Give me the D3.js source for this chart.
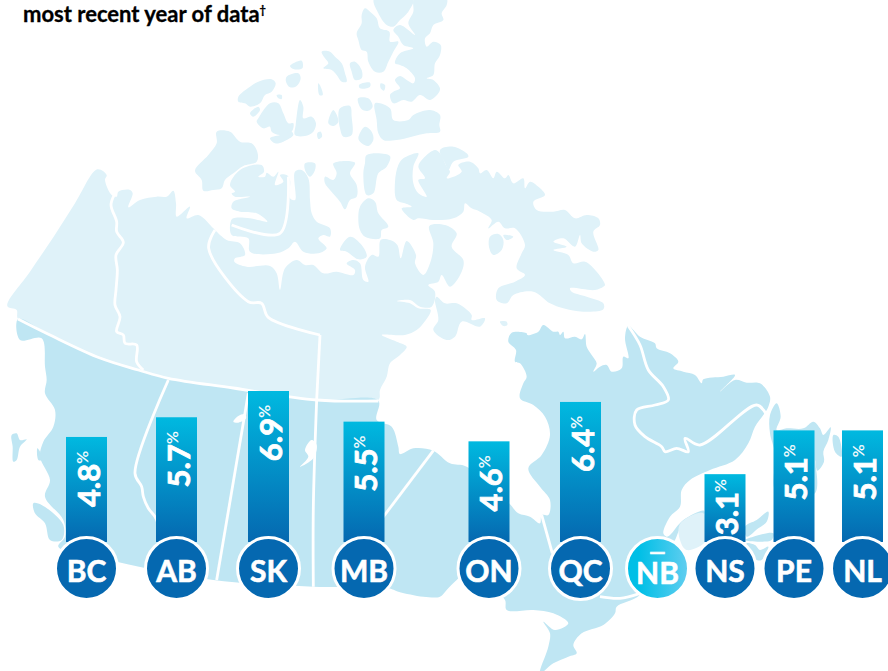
<!DOCTYPE html>
<html>
<head>
<meta charset="utf-8">
<script src="https://cdn.jsdelivr.net/npm/d3@7"></script>
<style>
body { margin: 0; background: #fff; }
svg { display: block; font-family: Lato, "Open Sans", sans-serif; font-weight: 700; }
</style>
</head>
<body>
<div class="container"></div>
<script>
// Chart data
const provinces = ["BC", "AB", "SK", "MB", "ON", "QC", "NB", "NS", "PE", "NL"];
const rates = [4.8, 5.7, 6.9, 5.5, 4.6, 6.4, null, 3.1, 5.1, 5.1];
const title = "most recent year of data";

const w = 888;
const h = 671;
const barW = 41;
const radius = 29.5;
const circleY = 568.5;

const dataset = provinces.map((p, i) => ({ province: p, rate: rates[i] }));

// Provinces are not evenly spaced, they sit roughly over their place on the map
const xScale = d3.scaleOrdinal()
       .domain(provinces)
       .range([86.5, 176.5, 268.5, 364, 489, 580.5, 657.5, 725, 794, 862.5]);

const yScale = d3.scaleLinear()
       .domain([0, 6.9])
       .range([542, 391]);

const z = (ox, oy, s) => s.trim().split(/\s+/).map(p => {
       const [a, b] = p.split(",").map(Number);
       return [ox + a / 3, oy + b / 3];
});

const north = [
       ...z(0, 0, "22,918 90,815 160,712 225,610 292,508 320,525 315,540 335,585 350,590 355,575 390,570 398,580 385,622 420,600 470,590 500,590 520,572 528,610 530,650 570,620 560,655 595,645 640,685"),
       ...z(190, 130, "75,300 110,330 150,340 165,375 135,385 133,395 170,410 240,408 260,430 270,480 285,415 320,390 345,405 370,405 400,430 440,425 490,435 495,420 470,400 490,390 510,400 520,450 535,455 525,410 545,375 565,380 572,330 600,330 622,345 632,385 650,333 678,375 675,400 700,435"),
       ...z(390, 140, "120,370 130,310 118,258 165,255 200,280 185,320 220,360 215,395 180,440 155,405 145,425 115,435 135,455 125,500 90,500 60,480 20,483 60,490 85,505 122,510"),
       ...z(0, 0, "1270,970 1250,990 1215,1005 1145,1005 1190,1025 1220,1040 1200,1065 1170,1090 1160,1130 1140,1170 1135,1200 951,1200 700,1164 505,1135 415,1110 300,1074 150,1005 54,957 50,930")
];

const arctic = [
       // Ellesmere, Axel Heiberg and Devon
       z(230, 0, "405,25 420,35 440,55 450,85 478,95 480,125 505,125 490,155 475,185 460,215 435,215 415,185 410,155 395,150 385,120 380,100 395,70 395,45"),
       z(230, 0, "553,-3 650,-3 650,15 635,40 640,60 610,75 600,100 585,115 590,140 610,125 632,135 630,165 615,190 610,225 590,235 610,240 630,265 625,280 600,300 570,285 545,305 520,300 490,310 480,285 490,275 510,265 495,240 510,228 530,240 550,250 555,235 530,205 510,195 495,190 510,160 550,145 520,135 505,110 490,90 510,75 555,105 535,70 550,35"),
       z(230, 0, "432,-3 550,-3 535,35 510,60 490,80 470,75 445,40"),
       z(230, 0, "435,310 480,325 490,360 535,360 550,345 600,330 630,345 628,375 630,395 590,400 545,410 500,420 460,420 445,400 440,360"),
       // Queen Elizabeth group
       z(230, 0, "275,155 300,155 315,170 335,190 345,220 350,245 335,245 320,225 305,210 280,205 295,190 285,175"),
       z(230, 0, "360,190 375,185 395,210 395,235 375,240 365,215"),
       z(230, 0, "387,255 420,248 420,260 390,265"),
       z(230, 0, "452,250 465,255 462,272 452,265"),
       z(230, 0, "384,295 415,295 428,320 415,332 395,328"),
       z(230, 0, "385,415 405,380 425,395 430,420 415,438 395,430"),
       z(230, 0, "330,325 360,318 365,350 365,405 340,410 330,385 325,345"),
       z(230, 0, "310,330 325,365 310,378 295,370"),
       z(230, 0, "197,375 210,300 220,320 220,355 245,350 258,370 250,395 225,408 195,405"),
       z(230, 0, "265,250 272,260 278,285 268,285"),
       z(230, 0, "262,400 272,395 276,410 265,417"),
       z(230, 0, "170,230 205,220 212,235 200,258 180,262 168,245"),
       z(230, 0, "180,198 215,182 217,205 190,207"),
       z(230, 0, "25,290 60,260 85,245 125,238 137,250 125,275 105,285 90,310 60,320 45,310 25,305"),
       z(230, 0, "60,340 85,320 90,330 70,350"),
       z(230, 0, "140,285 155,285 155,297 145,295"),
       z(230, 0, "85,355 120,310 145,310 160,340 175,370 190,370 185,395 150,405 125,395 120,380 100,385 80,365"),
       z(230, 0, "120,415 150,405 185,395 190,405 160,425 135,430"),
       // Banks and Victoria
       z(190, 130, "80,5 120,5 150,35 185,40 203,70 200,95 160,108 130,130 105,150 95,175 70,180 40,182 35,150 15,122 55,75 80,40"),
       z(190, 130, "120,165 150,120 215,105 222,125 205,140 225,140 230,128 250,140 265,125 255,165 280,155 270,135 290,135 300,150 300,205 315,210 315,125 335,120 355,145 360,210 365,250 380,275 420,295 420,320 400,315 385,325 410,355 385,370 340,365 315,335 295,355 260,370 180,365 175,325 125,315 122,275 130,265 180,265 232,275 200,250 150,245 125,235 130,215 180,200 135,200 125,190 135,185"),
       // Central islands
       z(190, 130, "345,100 375,100 375,120 360,140 345,120"),
       z(190, 130, "430,100 495,98 480,130 500,165 500,200 480,210 465,238 450,215 420,180 405,160 405,140 430,150 440,130"),
       z(190, 130, "525,100 530,75 600,78 590,110 565,130 550,190 530,195 520,130"),
       z(190, 130, "510,230 535,205 555,215 565,250 595,290 575,300 570,325 525,320 510,300 505,270"),
       z(190, 130, "450,360 480,320 515,345 530,380 505,388 470,365"),
       // Baffin, Bylot, Southampton and the small ones in the bays
       z(390, 140, "40,55 85,40 70,80 70,130 85,160 110,170 85,120 105,115 85,80 100,55 135,30 150,40 170,80 180,95 170,115 215,95 205,75 240,65 265,85 270,100 290,90 310,115 320,95 345,115 355,105 370,130 400,115 405,145 420,125 445,140 465,165 430,185 440,210 490,215 525,210 555,235 590,225 625,235 630,255 610,275 625,330 610,335 575,310 570,285 555,320 520,295 490,305 530,320 490,330 535,345 550,370 585,365 620,395 645,435 640,440 615,450 540,445 545,455 590,470 640,490 640,508 580,515 520,505 480,490 430,455 370,465 350,490 320,480 325,445 375,425 405,405 380,385 395,340 405,315 375,265 345,265 325,245 295,265 305,240 270,215 245,205 225,190 220,215 190,235 130,240 85,235 70,240 35,205 65,200 45,190 20,180 15,125 25,75"),
       z(390, 140, "150,30 190,20 230,40 235,50 190,65 175,90 165,70"),
       z(390, 140, "140,470 165,490 200,490 245,525 245,540 285,535 270,560 215,545 195,590 170,600 130,570 145,540 135,480"),
       z(390, 140, "300,290 325,282 340,300 335,330 310,345 298,325"),
       z(390, 140, "340,285 370,290 350,300"),
       z(390, 140, "330,545 350,545 352,555 340,558")
];

const south = [
       ...z(0, 0, "54,957 150,1005 300,1074 415,1110 505,1135 700,1164 951,1200"),
       ...z(0, 380, "1135,62 1130,120 1175,140 1195,200 1200,222 1240,205 1300,212 1350,250"),
       ...z(440, 380, "80,260 207,370 235,400 270,410 300,430 305,405 325,405 330,360 300,320 265,265 305,225 330,165 315,110 280,75 240,55 250,10"),
       ...z(440, 0, "260,1130 240,1090 225,1085 228,1050 205,1025 215,998 260,1000 262,1005 295,995 310,975 340,995 355,995 360,1005 370,995 375,1015 405,1010 425,1018 435,1002 440,1040 455,1065 470,1090 460,1115 480,1100 500,1095 515,1115 545,1105 550,1070 565,1075 555,1015 565,978"),
       ...z(620, 320, "60,50 105,70 110,85 150,100 175,125 160,145 190,155 225,165 245,190 250,178 310,170 345,165 300,215 345,180 380,188 420,190 450,230 445,260 430,285 405,320 385,370 345,420 270,450 210,480 185,510 180,560 150,590 130,640 140,650 150,645 190,600 252,572 252,585 185,620 165,660 145,690"),
       ...z(440, 380, "600,645 530,680 525,700 490,735 425,760 400,795 410,820 385,830 340,850 300,880 325,800 330,760 310,725 345,750 385,730 340,700 280,690 200,690 195,660 150,615 90,570 50,600 20,630 0,650"),
       ...z(0, 380, "1270,650 1195,635 1165,625 940,620 640,600 350,545 175,500 195,470 190,420 135,350 150,300 120,230 130,185 160,140 165,90 135,40 140,0"),
       ...z(0, 0, "135,1100 125,1015 60,1020")
];

const southIslands = [
       // Haida Gwaii, coast islet, Vancouver Island
       z(0, 380, "35,165 50,160 60,180 80,178 60,200 50,240 40,245 38,200"),
       z(0, 380, "112,205 120,215 125,240 115,240"),
       z(0, 380, "100,370 125,375 190,435 185,480 150,480 135,430 105,400"),
       // Prince Edward Island and Nova Scotia pieces
       z(620, 320, "375,620 410,600 445,575 440,605 415,625 380,650"),
       z(620, 320, "375,660 400,650 460,640 455,660 420,665"),
       z(440, 380, "920,490 945,495 960,510 985,500 965,540 950,540 925,520"),
       // Newfoundland
       z(620, 320, "450,285 470,250 482,290 470,330 500,325 550,325 580,305 600,325 610,345 632,322 625,360 610,395 612,425 592,452 585,420 585,520 470,520 465,400 450,340"),
       z(620, 320, "640,345 655,350 665,410 645,395")
];

const newBrunswick = z(440, 380, "720,432 790,400 800,480 740,510 720,480");

const lakes = [
       z(0, 380, "700,125 715,108 735,103 738,115 715,128"),
       z(0, 380, "915,210 935,180 950,195 940,235 900,260 925,230")
];

// Internal borders
const borders = [
       z(0, 0, "54,957 150,1005 300,1074 415,1110 505,1135 700,1164 951,1200 1135,1203"),
       z(0, 380, "505,0 405,280 425,320 430,350 445,385 465,410 472,425"),
       z(0, 380, "745,40 650,600"),
       z(0, 0, "960,1005 950,1200"),
       z(0, 380, "950,60 940,380 940,620"),
       z(0, 380, "1300,212 1120,450"),
       z(0, 0, "345,580 333,615 350,665 350,695 370,727 348,765 352,810 348,870 345,915 360,950 350,995 370,1005 375,1030 410,1035 410,1085 430,1110"),
       z(0, 0, "960,1005 805,952 785,910 745,905 626,745 645,690"),
       z(190, 130, "125,285 270,310 295,140"),
       z(620, 320, "25,18 60,75 85,150 130,200 145,240 105,255 50,270 45,315 75,350 125,380 135,395 170,385 205,395 195,355 240,375 410,255 440,285"),
       z(440, 380, "305,405 337,520"),
       z(440, 380, "480,650 540,655 600,640")
];

// Create SVG container
const svg = d3.select(".container")
       .append("svg")
       .attr("width", w)
       .attr("height", h);

const defs = svg.append("defs");

const barGrad = defs.append("linearGradient")
       .attr("id", "barGrad")
       .attr("x1", 0).attr("y1", 0).attr("x2", 0).attr("y2", 1);
barGrad.append("stop").attr("offset", "0%").attr("stop-color", "#00b9e0");
barGrad.append("stop").attr("offset", "100%").attr("stop-color", "#0568b0");

const noDataGrad = defs.append("linearGradient")
       .attr("id", "noDataGrad")
       .attr("x1", 0).attr("y1", 0).attr("x2", 1).attr("y2", 0);
noDataGrad.append("stop").attr("offset", "20%").attr("stop-color", "#00bfe6");
noDataGrad.append("stop").attr("offset", "100%").attr("stop-color", "#62cef0");

// Draw the map
const closed = d3.line().curve(d3.curveCatmullRomClosed.alpha(0.5));
const open = d3.line().curve(d3.curveCatmullRom.alpha(0.5));
const map = svg.append("g").attr("id", "map");

map.append("path").attr("d", closed(north)).attr("fill", "#dff2f9");
arctic.forEach(p => map.append("path").attr("d", closed(p)).attr("fill", "#dff2f9"));
map.append("path").attr("d", closed(south)).attr("fill", "#bfe6f3");
southIslands.forEach(p => map.append("path").attr("d", closed(p)).attr("fill", "#bfe6f3"));
map.append("path").attr("d", closed(newBrunswick)).attr("fill", "#dff2f9");
lakes.forEach(p => map.append("path").attr("d", closed(p)).attr("fill", "#fff"));

borders.forEach(p => map.append("path")
       .attr("d", open(p))
       .attr("fill", "none")
       .attr("stroke", "#fff")
       .attr("stroke-width", 2.8));

// Title, the first line of it is cut off in the source too
const titleText = svg.append("text")
       .attr("x", 23)
       .attr("y", 21.5)
       .attr("fill", "#000")
       .attr("stroke", "#000")
       .attr("stroke-width", 0.3)
       .style("font-size", "22px")
       .text(title);
titleText.append("tspan")
       .attr("dy", -8)
       .style("font-size", "11px")
       .text("†");

// Create bars
const withData = dataset.filter(d => d.rate !== null);

svg.selectAll(".bar")
       .data(withData)
       .enter()
       .append("rect")
       .attr("class", "bar")
       .attr("x", d => xScale(d.province) - barW / 2)
       .attr("y", d => yScale(d.rate))
       .attr("width", barW)
       .attr("height", d => yScale(0) - yScale(d.rate))
       .attr("fill", "url(#barGrad)");

// Value labels read upwards, NS has almost no room so it goes closer to the top
const labels = svg.selectAll(".rate")
       .data(withData)
       .enter()
       .append("text")
       .attr("class", "rate")
       .attr("transform", d => `translate(${xScale(d.province) + 13},${yScale(d.rate) + (d.province === "NS" ? 5 : 14)}) rotate(-90)`)
       .attr("text-anchor", "end")
       .attr("fill", "#fff")
       .attr("stroke", "#fff")
       .attr("stroke-width", 0.8)
       .style("font-size", "31px")
       .text(d => d3.format(".1f")(d.rate));
labels.append("tspan")
       .attr("dy", -12)
       .attr("stroke-width", 0.2)
       .style("font-size", "16px")
       .style("font-weight", 400)
       .text("%");

// Province circles
svg.selectAll(".badge")
       .data(dataset)
       .enter()
       .append("circle")
       .attr("class", "badge")
       .attr("cx", d => xScale(d.province))
       .attr("cy", circleY)
       .attr("r", radius + 1.5)
       .attr("fill", d => d.rate === null ? "url(#noDataGrad)" : "#0568b0")
       .attr("stroke", "#fff")
       .attr("stroke-width", 3);

svg.selectAll(".code")
       .data(dataset)
       .enter()
       .append("text")
       .attr("class", "code")
       .attr("x", d => xScale(d.province))
       .attr("y", d => circleY + (d.rate === null ? 15 : 13))
       .attr("text-anchor", "middle")
       .attr("fill", "#fff")
       .attr("stroke", "#fff")
       .attr("stroke-width", 0.6)
       .style("font-size", "30px")
       .text(d => d.province);

// NB has no figure, only a dash over its code
svg.selectAll(".nodata")
       .data(dataset.filter(d => d.rate === null))
       .enter()
       .append("text")
       .attr("class", "nodata")
       .attr("x", d => xScale(d.province))
       .attr("y", circleY - 10)
       .attr("text-anchor", "middle")
       .attr("fill", "#fff")
       .attr("stroke", "#fff")
       .attr("stroke-width", 0.6)
       .style("font-size", "21px")
       .text("—");
</script>
</body>
</html>
